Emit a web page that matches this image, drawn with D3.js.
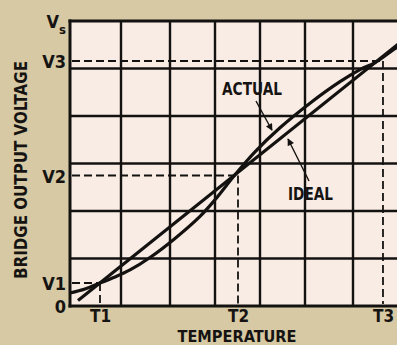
<!DOCTYPE html>
<html>
<head>
<meta charset="utf-8">
<script src="https://cdn.jsdelivr.net/npm/d3@7"></script>
<style>
  html, body { margin: 0; padding: 0; background: #d6c9a3; }
  svg { display: block; }
  text { font-family: "Liberation Sans Narrow", "Arial Narrow", "DejaVu Sans Condensed", sans-serif;
         font-weight: bold; fill: #161412; }
</style>
</head>
<body>
<svg id="chart" width="397" height="345"></svg>
<script>
// Bridge output voltage against temperature: actual (S-shaped) response vs. the ideal straight line.
// Temperature and voltage are both in grid divisions (7 columns, 6 rows).

const tempTickLabels = ["T1", "T2", "T3"];
const tempTickValues = [0.588, 3.511, 6.638];

const voltTickLabels = ["0", "V1", "V2", "V3", "Vs"];
const voltTickValues = [0, 0.484, 2.747, 5.158, 6];

const actualTemp = [0, 0.294, 0.588, 0.882, 1.184, 1.592, 2.111, 2.667, 3.0, 3.444, 3.889, 4.444, 5.104, 5.729, 6.149, 6.468, 6.787, 7.0];
const actualVolt = [0.274, 0.358, 0.484, 0.611, 0.759, 1.022, 1.423, 1.887, 2.235, 2.762, 3.246, 3.752, 4.269, 4.722, 4.976, 5.124, 5.345, 5.493];

const idealTemp = [0.157, 7.0];
const idealVolt = [0.114, 5.545];

// callout labels with their leader arrows (text anchor, leader start, arrow tip)
const calloutLabels = ["ACTUAL", "IDEAL"];
const calloutTextTemp = [3.822, 5.115];
const calloutTextVolt = [4.44, 2.232];
const calloutFromTemp = [3.911, 5.083];
const calloutFromVolt = [4.316, 2.632];
const calloutToTemp = [4.267, 4.622];
const calloutToVolt = [3.700, 3.516];

const svg = d3.select("#chart");
const W = 397, H = 345;

// the hand-ruled grid columns are not quite even, so the temperature scale is piecewise
const x = d3.scaleLinear().domain([0, 1, 2, 3, 4, 5, 6, 7]).range([70, 121, 170, 215, 260, 305, 353, 400]);
const y = d3.scaleLinear().domain([0, 6]).range([306, 21]);

const ink = "#141210";

svg.append("rect").attr("width", W).attr("height", H).attr("fill", "#d6c9a3");

// plot paper
svg.append("rect")
  .attr("x", x(0)).attr("y", y(6))
  .attr("width", x(7) - x(0)).attr("height", y(0) - y(6))
  .attr("fill", "#f9ece5");

// grid
const grid = svg.append("g").attr("stroke", ink).attr("stroke-width", 2.4);
grid.selectAll("line.v").data(d3.range(1, 8)).join("line")
  .attr("x1", d => x(d)).attr("x2", d => x(d))
  .attr("y1", y(0)).attr("y2", y(6));
grid.selectAll("line.h").data(d3.range(1, 6)).join("line")
  .attr("x1", x(0)).attr("x2", x(7))
  .attr("y1", d => y(d)).attr("y2", d => y(d));

// frame: left, bottom and top edges
const frame = svg.append("g").attr("stroke", ink).attr("stroke-width", 3).attr("stroke-linecap", "square");
frame.append("line").attr("x1", x(0)).attr("x2", x(0)).attr("y1", y(0)).attr("y2", y(6));
frame.append("line").attr("x1", x(0)).attr("x2", x(7)).attr("y1", y(0)).attr("y2", y(0));
frame.append("line").attr("x1", x(0)).attr("x2", x(7)).attr("y1", y(6)).attr("y2", y(6));

// dashed guides at the three calibration points
const guides = svg.append("g").attr("stroke", ink).attr("stroke-width", 1.8)
  .attr("stroke-dasharray", "8,4").attr("fill", "none");
tempTickValues.forEach((t, i) => {
  const v = voltTickValues[i + 1];
  guides.append("line").attr("x1", x(0) + 2).attr("x2", x(t)).attr("y1", y(v)).attr("y2", y(v));
  guides.append("line").attr("x1", x(t)).attr("x2", x(t)).attr("y1", y(v)).attr("y2", y(0) - 2);
});

// curves
const line = d3.line().x(d => x(d[0])).y(d => y(d[1]));
svg.append("path")
  .attr("d", line.curve(d3.curveLinear)(d3.zip(idealTemp, idealVolt)))
  .attr("fill", "none").attr("stroke", ink).attr("stroke-width", 3.2);
svg.append("path")
  .attr("d", line.curve(d3.curveCatmullRom.alpha(0.5))(d3.zip(actualTemp, actualVolt)))
  .attr("fill", "none").attr("stroke", ink).attr("stroke-width", 3.2);

// callouts
svg.append("defs").append("marker")
  .attr("id", "head").attr("viewBox", "0 0 10 10").attr("refX", 9).attr("refY", 5)
  .attr("markerWidth", 9).attr("markerHeight", 7).attr("markerUnits", "userSpaceOnUse")
  .attr("orient", "auto")
  .append("path").attr("d", "M0,0 L10,5 L0,10 Z").attr("fill", ink);

calloutLabels.forEach((label, i) => {
  svg.append("line")
    .attr("x1", x(calloutFromTemp[i])).attr("y1", y(calloutFromVolt[i]))
    .attr("x2", x(calloutToTemp[i])).attr("y2", y(calloutToVolt[i]))
    .attr("stroke", ink).attr("stroke-width", 1.4)
    .attr("marker-end", "url(#head)");
  svg.append("text")
    .attr("x", x(calloutTextTemp[i])).attr("y", y(calloutTextVolt[i]))
    .attr("text-anchor", "middle").attr("font-size", 17)
    .attr("textLength", label === "ACTUAL" ? 60 : 45).attr("lengthAdjust", "spacingAndGlyphs")
    .text(label);
});

// voltage axis labels
const yAxis = d3.axisLeft(y).tickValues(voltTickValues).tickSize(0).tickPadding(4)
  .tickFormat((d, i) => voltTickLabels[i]);
const gy = svg.append("g").attr("transform", `translate(${x(0)},0)`).call(yAxis);
gy.select(".domain").remove();
gy.selectAll("text")
  .attr("font-size", 18).attr("font-family", null).attr("fill", ink)
  .attr("dy", "0.36em")
  .each(function (d, i) {
    const lab = voltTickLabels[i];
    if (lab.length === 2 && lab[1] === "s") {
      const t = d3.select(this).text(null);
      t.append("tspan").text("V");
      t.append("tspan").attr("font-size", 13).attr("dy", "0.45em").text("s");
    }
  });

// temperature axis labels
const xAxis = d3.axisBottom(x).tickValues(tempTickValues).tickSize(0).tickPadding(4)
  .tickFormat((d, i) => tempTickLabels[i]);
const gx = svg.append("g").attr("transform", `translate(0,${y(0)})`).call(xAxis);
gx.select(".domain").remove();
gx.selectAll("text").attr("font-size", 17).attr("font-family", null).attr("fill", ink).attr("dy", "0.72em");

// axis titles
svg.append("text")
  .attr("x", 237).attr("y", 342).attr("text-anchor", "middle").attr("font-size", 15)
  .attr("textLength", 119).attr("lengthAdjust", "spacingAndGlyphs")
  .text("TEMPERATURE");
svg.append("text")
  .attr("transform", "translate(27,170) rotate(-90)")
  .attr("text-anchor", "middle").attr("font-size", 17)
  .attr("textLength", 218).attr("lengthAdjust", "spacingAndGlyphs")
  .text("BRIDGE OUTPUT VOLTAGE");
</script>
</body>
</html>
